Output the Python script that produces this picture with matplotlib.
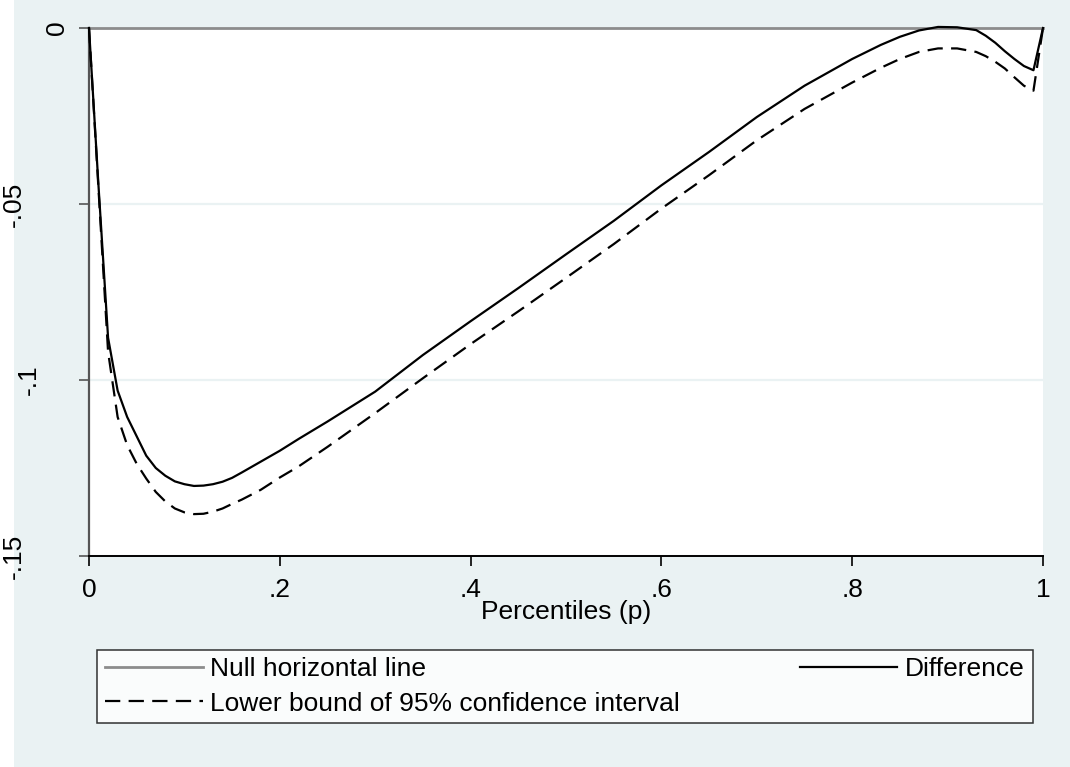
import numpy as np
import matplotlib
matplotlib.use("Agg")
import matplotlib.pyplot as plt
import matplotlib.transforms as mtransforms
from matplotlib.lines import Line2D
from matplotlib.patches import Rectangle

# percentiles and estimated quantile differences
p = [0.00, 0.01, 0.02, 0.03, 0.04, 0.05, 0.06, 0.07, 0.08, 0.09,
     0.10, 0.11, 0.12, 0.13, 0.14, 0.15, 0.16, 0.18, 0.20, 0.22,
     0.25, 0.30, 0.35, 0.40, 0.45, 0.50, 0.55, 0.60, 0.65, 0.70,
     0.75, 0.80, 0.83, 0.85, 0.87, 0.89, 0.91, 0.93, 0.94, 0.95,
     0.96, 0.97, 0.98, 0.99, 1.00]

difference = [0.0, -0.045, -0.088, -0.1030, -0.1105, -0.1160, -0.1215, -0.1250, -0.1272, -0.1288,
              -0.1296, -0.1301, -0.1300, -0.1296, -0.1289, -0.1278, -0.1263, -0.1232, -0.1201, -0.1167,
              -0.1118, -0.1033, -0.0929, -0.0833, -0.0739, -0.0643, -0.0548, -0.0447, -0.0352, -0.0253,
              -0.0164, -0.0088, -0.0048, -0.0025, -0.0007, 0.0003, 0.0002, -0.0006, -0.0022, -0.0042,
              -0.0066, -0.0088, -0.0108, -0.0120, 0.0]

lower_ci = [0.0, -0.046, -0.092, -0.1105, -0.1185, -0.1238, -0.1280, -0.1318, -0.1345, -0.1365,
            -0.1376, -0.1381, -0.1380, -0.1374, -0.1365, -0.1352, -0.1340, -0.1312, -0.1277, -0.1245,
            -0.1190, -0.1094, -0.0995, -0.0898, -0.0805, -0.0710, -0.0614, -0.0513, -0.0418, -0.0319,
            -0.0230, -0.0155, -0.0113, -0.0088, -0.0068, -0.0058, -0.0058, -0.0068, -0.0080, -0.0096,
            -0.0115, -0.0140, -0.0164, -0.0178, 0.0]

null_x = [0.0, 1.0]
null_y = [0.0, 0.0]

yticks = [0.0, -0.05, -0.10, -0.15]
ytick_labels = ["0", "-.05", "-.1", "-.15"]
xticks = [0.0, 0.2, 0.4, 0.6, 0.8, 1.0]
xtick_labels = ["0", ".2", ".4", ".6", ".8", "1"]

bg = "#EAF2F3"   # stata ltbluishgray
plt.rcParams["font.family"] = ["Liberation Sans", "DejaVu Sans"]
plt.rcParams["lines.scale_dashes"] = False
fs = 19

W, H = 1070, 767
fig = plt.figure(figsize=(W / 100, H / 100), dpi=100, facecolor=bg)
fig.patches.append(Rectangle((0, 0), 14 / W, 1, transform=fig.transFigure,
                             facecolor="white", edgecolor="none", zorder=-1))

ax = fig.add_axes([89 / W, 1 - 556 / H, (1043 - 89) / W, (556 - 28) / H])
ax.set_facecolor("white")

ax.plot(null_x, null_y, color="#8c8c8c", lw=2.0, clip_on=False, zorder=2)
ax.plot(p, difference, color="black", lw=1.6, clip_on=False, zorder=3)
ax.plot(p, lower_ci, color="black", lw=1.6, dashes=(11.0, 6.0), clip_on=False, zorder=3)

ax.set_xlim(0, 1)
ax.set_ylim(-0.15, 0)

for side in ("top", "right"):
    ax.spines[side].set_visible(False)
ax.spines["left"].set_color("#555555")
ax.spines["left"].set_linewidth(1.6)
ax.spines["bottom"].set_color("black")
ax.spines["bottom"].set_linewidth(1.4)

ax.set_axisbelow(True)
ax.grid(axis="y", color=bg, lw=1.6)

ax.set_xticks(xticks)
ax.set_xticklabels(xtick_labels, fontsize=fs)
ax.tick_params(axis="x", length=7.2, width=1.2, color="black", pad=8.4)
ax.set_yticks(yticks)
ax.tick_params(axis="y", length=7.2, width=1.2, color="#555555", labelleft=False)

# rotated y labels, staggered like stata draws them
label_dx = [-32, -75, -60, -75]
for val, lab, dx in zip(yticks, ytick_labels, label_dx):
    tr = mtransforms.offset_copy(ax.get_yaxis_transform(), fig=fig, x=dx, y=0, units="dots")
    ax.text(0, val, lab, transform=tr, rotation=90, ha="center", va="center",
            fontsize=fs, clip_on=False)

ax.set_xlabel("Percentiles (p)", fontsize=fs, labelpad=-1.5)

handles = [
    Line2D([], [], color="#8c8c8c", lw=2.0),
    Line2D([], [], color="black", lw=1.6, dashes=(11.0, 6.0)),
    Line2D([], [], color="black", lw=1.6),
]
labels = ["Null horizontal line", "Lower bound of 95% confidence interval", "Difference"]
leg = fig.legend(handles, labels, ncol=2, mode="expand", loc="center",
                 bbox_to_anchor=(97 / W, 1 - 730 / H, 936 / W, 87 / H),
                 fontsize=fs, frameon=True, fancybox=False, borderaxespad=0,
                 borderpad=0.3, labelspacing=0.38, handlelength=3.7, handletextpad=0.3)
leg.get_frame().set_edgecolor("black")
leg.get_frame().set_linewidth(1.1)
leg.get_frame().set_facecolor("white")

fig.savefig("out.png", dpi=100, facecolor=bg)
